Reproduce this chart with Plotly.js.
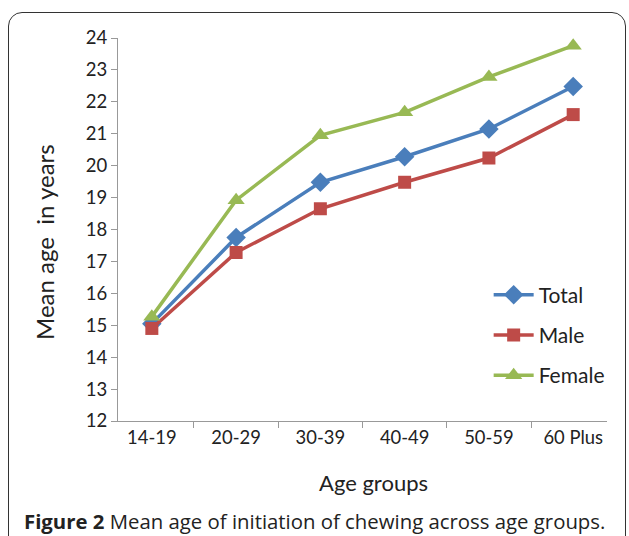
<!DOCTYPE html>
<html>
<head>
<meta charset="utf-8">
<script src="https://cdn.plot.ly/plotly-3.0.1.min.js"></script>
<style>
html,body{margin:0;padding:0;background:#fff;overflow:hidden;}
#frame{position:absolute;left:8px;top:12px;width:618px;height:540px;border:1.5px solid #333;border-radius:14px;box-sizing:border-box;}
#chart{position:absolute;left:0;top:0;width:629px;height:536px;}
</style>
</head>
<body>
<div id="frame"></div>
<div id="chart"></div>
<script>
var categories = ["14-19", "20-29", "30-39", "40-49", "50-59", "60 Plus"];
var totalValues = [15.05, 17.75, 19.48, 20.28, 21.15, 22.48];
var maleValues = [14.9, 17.28, 18.65, 19.48, 20.24, 21.6];
var femaleValues = [15.27, 18.92, 20.95, 21.67, 22.78, 23.76];
var yTickValues = [12, 13, 14, 15, 16, 17, 18, 19, 20, 21, 22, 23, 24];

var chartFont = "Lato, 'Open Sans', sans-serif";

var traces = [
  {x: categories, y: totalValues, name: "Total", type: "scatter", mode: "lines+markers",
   legendgroup: "a",
   line: {color: "#4a7ebb", width: 3.5}, marker: {symbol: "diamond", size: 15, color: "#4a7ebb"}},
  {x: categories, y: maleValues, name: "Male", type: "scatter", mode: "lines+markers",
   legendgroup: "b",
   line: {color: "#be4b48", width: 3.5}, marker: {symbol: "square", size: 13, color: "#be4b48"}},
  {x: categories, y: femaleValues, name: "Female", type: "scatter", mode: "lines+markers",
   legendgroup: "c",
   line: {color: "#98b954", width: 3.5}, marker: {symbol: "triangle-up", size: 15, color: "#98b954"}}
];

var layout = {
  width: 629, height: 536,
  paper_bgcolor: "rgba(0,0,0,0)", plot_bgcolor: "rgba(0,0,0,0)",
  margin: {l: 118, r: 22, t: 38, b: 115},
  font: {family: chartFont, size: 18, color: "#222"},
  showlegend: true,
  legend: {x: 0.758, y: 0.3825, xanchor: "left", yanchor: "top", traceorder: "grouped",
           itemwidth: 40, tracegroupgap: 10, font: {size: 21, color: "#222"}, bgcolor: "rgba(0,0,0,0)"},
  xaxis: {
    type: "category", showgrid: false, zeroline: false,
    showline: true, linecolor: "#999", linewidth: 1,
    ticks: "outside", tickson: "boundaries", ticklen: 6, tickcolor: "#999",
    tickfont: {size: 18.4, color: "#222"}
  },
  yaxis: {
    range: [12, 24], tickvals: yTickValues, showgrid: false, zeroline: false,
    showline: true, linecolor: "#999", linewidth: 1,
    ticks: "outside", ticklen: 6, tickcolor: "#999",
    tickfont: {size: 18.5, color: "#222"}
  },
  annotations: [
    {xref: "paper", yref: "paper", x: 0.5235, y: -0.1593, xanchor: "center", yanchor: "middle",
     showarrow: false, text: "Age groups", font: {size: 22, color: "#222"}},
    {xref: "paper", yref: "paper", x: -0.1493, y: 0.4674, xanchor: "center", yanchor: "middle",
     showarrow: false, textangle: -90, text: "Mean age  in years", font: {size: 24, color: "#222"}},
    {xref: "paper", yref: "paper", x: -0.1955, y: -0.262, xanchor: "left", yanchor: "middle",
     showarrow: false, align: "left",
     text: "<b>Figure 2</b> Mean age of initiation of chewing across age groups.",
     font: {family: "'Open Sans', 'Noto Sans', sans-serif", size: 20.35, color: "#222"}}
  ]
};

Plotly.newPlot("chart", traces, layout, {displayModeBar: false, staticPlot: true});
</script>
</body>
</html>
